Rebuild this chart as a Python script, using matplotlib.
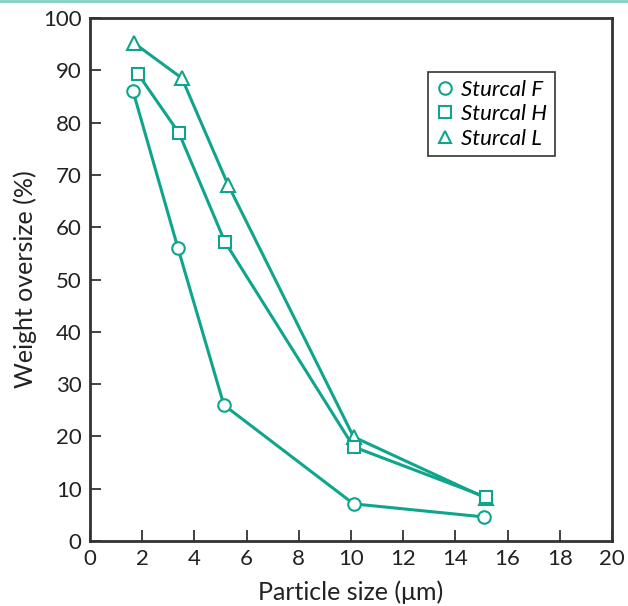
import matplotlib
matplotlib.use('Agg')
import matplotlib.pyplot as plt
from matplotlib.lines import Line2D

x_f = [1.65, 3.37, 5.13, 10.1, 15.1]
y_f = [86.0, 56.0, 26.0, 7.1, 4.6]
x_h = [1.84, 3.41, 5.17, 10.1, 15.17]
y_h = [89.3, 78.0, 57.2, 18.0, 8.4]
x_l = [1.69, 3.52, 5.29, 10.1, 15.17]
y_l = [95.2, 88.5, 68.1, 19.9, 8.2]
labels = ['Sturcal F', 'Sturcal H', 'Sturcal L']

teal = '#0fa58c'
plt.rcParams['font.family'] = ['Lato', 'DejaVu Sans']

fig = plt.figure(figsize=(6.28, 6.06), dpi=100)
ax = fig.add_axes([90/628, 65/606, 522/628, 523/606])

for xs, ys, m, lab in [(x_l, y_l, '^', labels[2]), (x_h, y_h, 's', labels[1]), (x_f, y_f, 'o', labels[0])]:
	ax.plot(xs, ys, color=teal, lw=2.2, marker=m, ms=10 if m == '^' else 9,
		mfc='white', mec=teal, mew=1.5, label=lab)

ax.set_xlim(0, 20)
ax.set_ylim(0, 100)
ax.set_xticks(range(0, 21, 2))
ax.set_yticks(range(0, 101, 10))
ax.tick_params(direction='in', length=8, width=1.2, labelsize=16, colors='#222222', pad=6)
for s in ax.spines.values():
	s.set_linewidth(2)
	s.set_color('#333333')
ax.set_xlabel('Particle size (μm)', fontsize=18, color='#222222', labelpad=8)
ax.set_ylabel('Weight oversize (%)', fontsize=18, color='#222222', labelpad=4)

handles = [Line2D([], [], ls='none', marker=m, ms=9, mfc='white', mec=teal, mew=1.5)
	for m in ['o', 's', '^']]
leg = ax.legend(handles, labels, loc='upper left', bbox_to_anchor=(0.6475, 0.897),
	borderaxespad=0, fancybox=False, edgecolor='#333333', framealpha=1, handlelength=0.8,
	handletextpad=0.35, borderpad=0.35, labelspacing=0.2,
	prop={'style': 'italic', 'size': 16})
leg.get_frame().set_linewidth(1.2)

fig.add_artist(Line2D([0, 1], [1 - 1/606, 1 - 1/606], color='#7fd3c4', lw=2, transform=fig.transFigure))

fig.savefig('out.png', dpi=100)
